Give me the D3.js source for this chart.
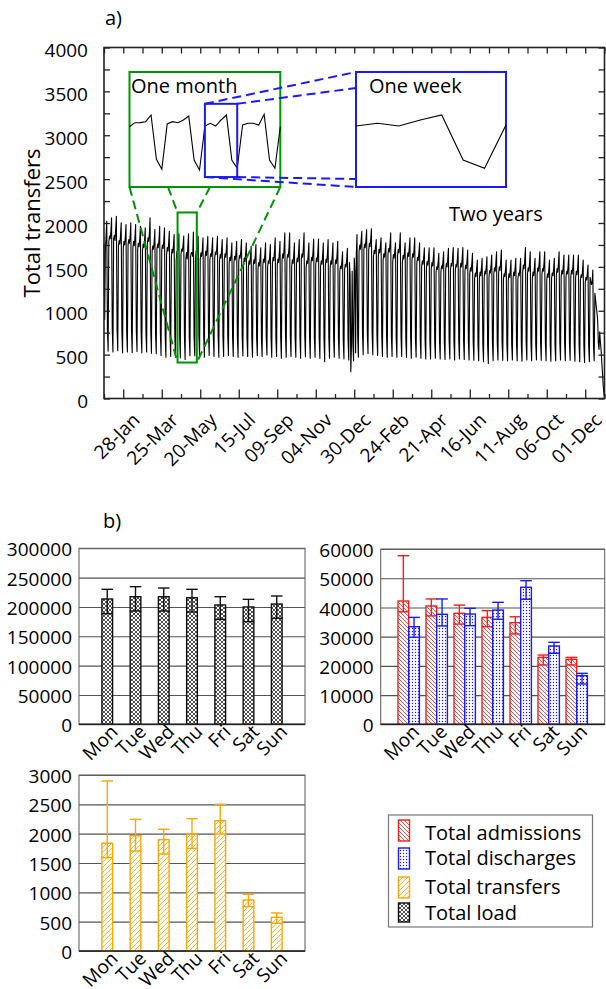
<!DOCTYPE html>
<html>
<head>
<meta charset="utf-8">
<script src="https://cdn.jsdelivr.net/npm/d3@7"></script>
<style>
body { margin: 0; background: #fff; }
svg { display: block; font-family: "Open Sans", sans-serif; }
</style>
</head>
<body>
<script>
// ---- a) daily total transfers, one row per week (Mon..Sun), first Monday 31-Dec-2012
var weekRows = [
	[1760, 900, 1700, 1850, 2020, 780, 540],
	[1790, 1850, 1820, 1900, 2058, 800, 530],
	[1820, 1860, 1800, 1930, 2077, 790, 545],
	[1740, 1800, 1760, 1860, 2001, 770, 520],
	[1710, 1790, 1750, 1840, 1982, 760, 530],
	[1750, 1810, 1770, 1850, 2001, 780, 525],
	[1720, 1790, 1740, 1830, 1982, 770, 535],
	[1700, 1770, 1730, 1820, 1963, 750, 520],
	[1690, 1760, 1720, 1800, 1944, 760, 530],
	[1760, 1830, 1790, 1880, 2058, 780, 515],
	[1680, 1740, 1700, 1790, 1925, 740, 510],
	[1700, 1760, 1720, 1810, 1963, 750, 490],
	[1690, 1750, 1710, 1800, 1944, 720, 470],
	[1640, 1720, 1680, 1770, 1906, 730, 480],
	[1620, 1700, 1660, 1740, 1868, 720, 470],
	[1573, 1678, 1680, 1704, 1878, 723, 462],
	[1644, 1704, 1678, 1748, 1852, 704, 444],
	[1591, 1662, 1591, 1748, 1878, 704, 488],
	[1618, 1662, 1662, 1618, 1897, 704, 488],
	[1573, 1680, 1640, 1720, 1849, 730, 480],
	[1590, 1660, 1620, 1700, 1830, 720, 470],
	[1600, 1680, 1630, 1720, 1849, 730, 490],
	[1580, 1650, 1620, 1700, 1830, 710, 480],
	[1600, 1670, 1640, 1710, 1849, 720, 470],
	[1570, 1640, 1600, 1690, 1811, 700, 480],
	[1580, 1650, 1610, 1700, 1830, 710, 490],
	[1540, 1610, 1570, 1650, 1773, 700, 480],
	[1550, 1620, 1580, 1670, 1792, 710, 470],
	[1560, 1630, 1600, 1680, 1811, 700, 485],
	[1530, 1600, 1560, 1650, 1773, 690, 480],
	[1500, 1570, 1530, 1620, 1735, 680, 470],
	[1510, 1580, 1540, 1630, 1754, 690, 490],
	[1480, 1550, 1510, 1600, 1716, 680, 480],
	[1520, 1590, 1550, 1640, 1773, 700, 495],
	[1500, 1570, 1540, 1620, 1754, 690, 470],
	[1540, 1610, 1570, 1680, 1830, 700, 480],
	[1520, 1590, 1550, 1660, 1792, 690, 460],
	[1580, 1650, 1600, 1720, 1887, 720, 470],
	[1570, 1640, 1610, 1710, 1887, 710, 480],
	[1510, 1580, 1540, 1640, 1773, 690, 470],
	[1530, 1600, 1560, 1660, 1811, 700, 460],
	[1580, 1650, 1610, 1720, 1887, 720, 475],
	[1500, 1570, 1540, 1640, 1773, 690, 460],
	[1540, 1610, 1570, 1670, 1818, 700, 470],
	[1530, 1600, 1560, 1660, 1818, 690, 455],
	[1510, 1570, 1530, 1630, 1773, 680, 420],
	[1520, 1590, 1550, 1650, 1811, 700, 460],
	[1500, 1570, 1530, 1630, 1773, 690, 470],
	[1510, 1580, 1540, 1640, 1792, 690, 460],
	[1450, 1510, 1480, 1560, 1673, 660, 450],
	[1470, 1530, 1500, 1580, 1711, 660, 440],
	[1550, 1400, 305, 620, 1450, 620, 430],
	[1600, 1450, 520, 1650, 1868, 720, 470],
	[1680, 1750, 1700, 1800, 1906, 740, 500],
	[1700, 1760, 1720, 1810, 1925, 750, 510],
	[1690, 1770, 1730, 1820, 1933, 740, 500],
	[1620, 1690, 1650, 1730, 1811, 720, 490],
	[1620, 1700, 1660, 1740, 1830, 720, 480],
	[1580, 1650, 1610, 1690, 1773, 700, 470],
	[1640, 1710, 1670, 1760, 1887, 720, 480],
	[1560, 1640, 1600, 1680, 1773, 700, 470],
	[1630, 1700, 1660, 1750, 1887, 710, 480],
	[1550, 1630, 1590, 1670, 1773, 690, 470],
	[1590, 1660, 1620, 1710, 1830, 700, 460],
	[1580, 1650, 1610, 1700, 1830, 690, 470],
	[1540, 1610, 1570, 1660, 1773, 680, 460],
	[1500, 1570, 1530, 1610, 1716, 670, 450],
	[1490, 1560, 1520, 1600, 1716, 670, 450],
	[1480, 1550, 1510, 1600, 1716, 660, 460],
	[1440, 1500, 1470, 1550, 1654, 650, 450],
	[1440, 1510, 1480, 1560, 1673, 650, 445],
	[1470, 1540, 1500, 1590, 1711, 660, 450],
	[1470, 1540, 1510, 1600, 1719, 660, 440],
	[1460, 1530, 1500, 1590, 1711, 650, 450],
	[1470, 1540, 1500, 1600, 1719, 660, 445],
	[1450, 1520, 1480, 1570, 1692, 650, 440],
	[1420, 1490, 1450, 1540, 1654, 640, 435],
	[1360, 1430, 1390, 1480, 1578, 620, 430],
	[1370, 1440, 1400, 1490, 1597, 630, 420],
	[1380, 1450, 1420, 1500, 1616, 600, 400],
	[1390, 1460, 1430, 1520, 1635, 630, 430],
	[1420, 1490, 1450, 1550, 1673, 640, 440],
	[1430, 1500, 1460, 1560, 1692, 640, 435],
	[1360, 1420, 1390, 1470, 1578, 620, 430],
	[1350, 1420, 1380, 1470, 1578, 620, 440],
	[1370, 1440, 1400, 1490, 1597, 630, 430],
	[1360, 1430, 1400, 1480, 1597, 620, 425],
	[1440, 1520, 1480, 1580, 1719, 650, 440],
	[1420, 1490, 1450, 1550, 1673, 640, 430],
	[1370, 1440, 1400, 1490, 1597, 620, 440],
	[1410, 1490, 1450, 1550, 1673, 640, 435],
	[1420, 1480, 1450, 1540, 1673, 640, 430],
	[1350, 1420, 1380, 1470, 1578, 620, 425],
	[1370, 1430, 1400, 1480, 1597, 620, 430],
	[1410, 1480, 1440, 1540, 1673, 640, 440],
	[1390, 1460, 1420, 1510, 1635, 630, 430],
	[1380, 1450, 1420, 1510, 1635, 630, 435],
	[1390, 1460, 1420, 1510, 1635, 620, 425],
	[1380, 1450, 1410, 1500, 1635, 620, 420],
	[1350, 1410, 1380, 1460, 1578, 600, 410],
	[1320, 1380, 1350, 1420, 1521, 590, 420],
	[1380, 1340, 1300, 1320, 1464, 600, 430],
	[1200, 1130, 1050, 980, 900, 640, 560],
	[760, 650, 560, 420, 300, 160, 70]
];
var lastDayValue = 0; // 29-Dec-2014

var axisStart = "2012-12-31", axisEnd = "2014-12-29";
var majorTickDates = ["2013-01-28", "2013-03-25", "2013-05-20", "2013-07-15", "2013-09-09", "2013-11-04",
	"2013-12-30", "2014-02-24", "2014-04-21", "2014-06-16", "2014-08-11", "2014-10-06", "2014-12-01"];
var yTicksTop = [0, 500, 1000, 1500, 2000, 2500, 3000, 3500, 4000];

// zoom windows
var monthStart = "2013-04-15", monthEnd = "2013-05-13";
var weekStart = "2013-04-29", weekEnd = "2013-05-06";
var monthBoxDates = ["2013-04-17", "2013-05-15"], monthBoxValues = [410, 2120];
var weekBoxValues = [260, 2170];
var insetDomain = [0, 3000];

// ---- b) means per weekday with error bar ends
var dayNames = ["Mon", "Tue", "Wed", "Thu", "Fri", "Sat", "Sun"];
var loadMean = [213600, 217500, 217500, 215800, 203400, 200000, 205000];
var loadHi   = [230100, 234600, 232300, 230100, 217500, 213000, 218700];
var loadLo   = [188500, 193100, 193100, 191400, 179000, 174900, 180700];

var admMean = [42200, 40500, 38000, 36600, 34800, 22900, 22250];
var admHi   = [57700, 42900, 40800, 38900, 36800, 23700, 22900];
var admLo   = [38500, 37100, 34300, 33400, 30900, 20300, 20300];

var disMean = [33400, 37650, 37750, 39100, 46900, 26800, 16650];
var disHi   = [36600, 42900, 39700, 41750, 49150, 28050, 17450];
var disLo   = [29800, 33650, 33750, 35950, 42800, 24300, 13800];

var trMean = [1836, 1966, 1898, 1989, 2222, 869, 574];
var trHi   = [2898, 2244, 2074, 2256, 2500, 966, 648];
var trLo   = [1591, 1705, 1653, 1750, 1994, 756, 472];

var legendLabels = ["Total admissions", "Total discharges", "Total transfers", "Total load"];

var red = "#ff1a1a", blue = "#1a1aff", orange = "#ffa500", green = "#009400";

var svg = d3.select("body").append("svg")
	.attr("width", 606)
	.attr("height", 989);

// patterns
var defs = svg.append("defs");
function addPattern(id, size, color, kind) {
	var p = defs.append("pattern")
		.attr("id", id)
		.attr("patternUnits", "userSpaceOnUse")
		.attr("width", size)
		.attr("height", size);
	p.append("rect").attr("width", size).attr("height", size).attr("fill", "#fff");
	var s = size;
	var back = "M0,0 L" + s + "," + s + " M-1," + (s - 1) + " L1," + (s + 1) + " M" + (s - 1) + ",-1 L" + (s + 1) + ",1";
	var fwd = "M0," + s + " L" + s + ",0 M-1,1 L1,-1 M" + (s - 1) + "," + (s + 1) + " L" + (s + 1) + "," + (s - 1);
	if (kind === "dots") {
		p.append("circle").attr("cx", s / 2).attr("cy", s / 2).attr("r", 0.7).attr("fill", color);
		return;
	}
	var d = kind === "back" ? back : kind === "fwd" ? fwd : back + " " + fwd;
	p.append("path").attr("d", d).attr("stroke", color).attr("stroke-width", 0.8).attr("fill", "none");
}
addPattern("patAdm", 4, red, "back");
addPattern("patDis", 3, blue, "dots");
addPattern("patTr", 5, orange, "fwd");
addPattern("patLoad", 4, "#222", "cross");

// ================= panel a =================
var parseDay = d3.utcParse("%Y-%m-%d");
var fmtTick = d3.utcFormat("%d-%b");
var t0 = parseDay(axisStart);

var series = [];
weekRows.forEach(function(row, w) {
	row.forEach(function(v, d) {
		series.push({date: d3.utcDay.offset(t0, w * 7 + d), value: v});
	});
});
series.push({date: d3.utcDay.offset(t0, weekRows.length * 7), value: lastDayValue});

var pa = {left: 104, right: 604.5, top: 47.5, bottom: 398.5};
var x = d3.scaleUtc()
	.domain([t0, parseDay(axisEnd)])
	.range([pa.left, pa.right]);
var y = d3.scaleLinear()
	.domain([0, 4000])
	.range([pa.bottom, pa.top]);

var line = d3.line()
	.x(function(d) { return x(d.date); })
	.y(function(d) { return y(d.value); });

svg.append("path")
	.datum(series)
	.attr("d", line)
	.attr("fill", "none")
	.attr("stroke", "#000")
	.attr("stroke-width", 1.1)
	.attr("stroke-linejoin", "round");

// ticks
var allTicks = d3.range(27).map(function(i) { return d3.utcDay.offset(t0, 28 * i); });
var majors = majorTickDates.map(parseDay);
var minors = allTicks.filter(function(t) {
	return !majors.some(function(m) { return +m === +t; });
});
function styleAxis(g) {
	g.select(".domain").remove();
	g.selectAll("line").attr("stroke", "#222").attr("stroke-width", 1.3);
	g.selectAll("text").remove();
}
svg.append("g").attr("transform", "translate(0," + pa.bottom + ")")
	.call(d3.axisBottom(x).tickValues(majors).tickSize(-9)).call(styleAxis);
svg.append("g").attr("transform", "translate(0," + pa.bottom + ")")
	.call(d3.axisBottom(x).tickValues(minors).tickSize(-4.5)).call(styleAxis);
svg.append("g").attr("transform", "translate(0," + pa.top + ")")
	.call(d3.axisTop(x).tickValues(allTicks).tickSize(-6)).call(styleAxis);
svg.append("g").attr("transform", "translate(" + pa.left + ",0)")
	.call(d3.axisLeft(y).tickValues(d3.range(0, 4001, 250)).tickSize(-6)).call(styleAxis);
svg.append("g").attr("transform", "translate(" + pa.right + ",0)")
	.call(d3.axisRight(y).tickValues(d3.range(0, 4001, 250)).tickSize(-6)).call(styleAxis);

svg.append("rect")
	.attr("x", pa.left).attr("y", pa.top)
	.attr("width", pa.right - pa.left).attr("height", pa.bottom - pa.top)
	.attr("fill", "none").attr("stroke", "#222").attr("stroke-width", 1.6);

svg.selectAll(".ylab").data(yTicksTop).enter().append("text")
	.attr("x", pa.left - 16)
	.attr("y", function(d) { return y(d) + 3; })
	.attr("dy", "0.35em")
	.attr("text-anchor", "end")
	.attr("font-size", 19)
	.text(function(d) { return d; });

svg.selectAll(".xlab").data(majors).enter().append("text")
	.attr("text-anchor", "end")
	.attr("font-size", 19)
	.attr("dy", "0.35em")
	.attr("transform", function(d) {
		return "translate(" + (x(d) + 13) + "," + (pa.bottom + 18) + ") rotate(-45)";
	})
	.text(function(d) { return fmtTick(d); });

svg.append("text")
	.attr("text-anchor", "middle")
	.attr("font-size", 22)
	.attr("transform", "translate(40,223) rotate(-90)")
	.text("Total transfers");

svg.append("text").attr("x", 449).attr("y", 221).attr("font-size", 20).text("Two years");
svg.append("text").attr("x", 105).attr("y", 25).attr("font-size", 20).text("a)");

// month box on the main chart
var mb = {x0: x(parseDay(monthBoxDates[0])), x1: x(parseDay(monthBoxDates[1])),
	y0: y(monthBoxValues[1]), y1: y(monthBoxValues[0])};

// insets
var monthBox = {left: 129.5, right: 280.3, top: 72, bottom: 187};
var weekBox = {left: 356, right: 506, top: 72, bottom: 187};
var yIn = d3.scaleLinear().domain(insetDomain).range([monthBox.bottom, monthBox.top]);
var xMonth = d3.scaleUtc().domain([parseDay(monthStart), parseDay(monthEnd)]).range([monthBox.left, monthBox.right]);
var xWeek = d3.scaleUtc().domain([parseDay(weekStart), parseDay(weekEnd)]).range([weekBox.left, weekBox.right]);

function between(a, b) {
	var s = parseDay(a), e = parseDay(b);
	return series.filter(function(d) { return d.date >= s && d.date <= e; });
}
var wb = {x0: xMonth(parseDay(weekStart)), x1: xMonth(d3.utcDay.offset(parseDay(weekEnd), -1)),
	y0: yIn(weekBoxValues[1]), y1: yIn(weekBoxValues[0])};

// dashed connectors
var greenLinks = [
	[[monthBox.left, monthBox.bottom], [mb.x0, mb.y1]],
	[[monthBox.right, monthBox.bottom], [mb.x1, mb.y1]],
	[[168, monthBox.bottom], [mb.x0, mb.y0]],
	[[210, monthBox.bottom], [mb.x1, mb.y0]]
];
var blueLinks = [
	[[wb.x0, wb.y0], [weekBox.left, weekBox.top]],
	[[wb.x1, wb.y0], [weekBox.left, 88]],
	[[wb.x0, wb.y1], [weekBox.left, weekBox.bottom]],
	[[wb.x1, wb.y1], [weekBox.left, 179]]
];
function drawLinks(links, color) {
	svg.append("g").selectAll("line").data(links).enter().append("line")
		.attr("x1", function(d) { return d[0][0]; })
		.attr("y1", function(d) { return d[0][1]; })
		.attr("x2", function(d) { return d[1][0]; })
		.attr("y2", function(d) { return d[1][1]; })
		.attr("stroke", color)
		.attr("stroke-width", 2)
		.attr("stroke-dasharray", "9,5");
}
drawLinks(greenLinks, green);

svg.append("rect")
	.attr("x", mb.x0).attr("y", mb.y0)
	.attr("width", mb.x1 - mb.x0).attr("height", mb.y1 - mb.y0)
	.attr("fill", "none").attr("stroke", green).attr("stroke-width", 2);

[monthBox, weekBox].forEach(function(b, i) {
	svg.append("rect")
		.attr("x", b.left).attr("y", b.top)
		.attr("width", b.right - b.left).attr("height", b.bottom - b.top)
		.attr("fill", "#fff")
		.attr("stroke", i === 0 ? green : blue)
		.attr("stroke-width", 2);
});

svg.append("path")
	.datum(between(monthStart, monthEnd))
	.attr("d", d3.line().x(function(d) { return xMonth(d.date); }).y(function(d) { return yIn(d.value); }))
	.attr("fill", "none").attr("stroke", "#000").attr("stroke-width", 1.1);

svg.append("path")
	.datum(between(weekStart, weekEnd))
	.attr("d", d3.line().x(function(d) { return xWeek(d.date); }).y(function(d) { return yIn(d.value); }))
	.attr("fill", "none").attr("stroke", "#000").attr("stroke-width", 1.1);

drawLinks(blueLinks, blue);
svg.append("rect")
	.attr("x", wb.x0).attr("y", wb.y0)
	.attr("width", wb.x1 - wb.x0).attr("height", wb.y1 - wb.y0)
	.attr("fill", "none").attr("stroke", blue).attr("stroke-width", 2);

svg.append("text").attr("x", 131).attr("y", 93).attr("font-size", 20).text("One month");
svg.append("text").attr("x", 369).attr("y", 93).attr("font-size", 20).text("One week");

// ================= panel b =================
svg.append("text").attr("x", 103).attr("y", 528).attr("font-size", 20).text("b)");

var barW = 10.7;
function drawBarPanel(box, yMax, yStep, groups) {
	var xb = d3.scalePoint().domain(dayNames).range([box.left, box.right]).padding(1);
	var yb = d3.scaleLinear().domain([0, yMax]).range([box.bottom, box.top]);
	var g = svg.append("g");

	g.append("g")
		.attr("transform", "translate(" + box.left + ",0)")
		.call(d3.axisLeft(yb).tickValues(d3.range(0, yMax + 1, yStep)).tickFormat(d3.format("d"))
			.tickSize(-(box.right - box.left)).tickPadding(7))
		.call(function(a) {
			a.attr("font-size", null).attr("font-family", null);
			a.select(".domain").remove();
			a.selectAll("line").attr("stroke", "#555").attr("stroke-width", 1.1);
			a.selectAll("text").attr("font-size", 19).attr("fill", "#000").attr("dy", "0.4em");
		});

	g.append("rect")
		.attr("x", box.left).attr("y", box.top)
		.attr("width", box.right - box.left).attr("height", box.bottom - box.top)
		.attr("fill", "none").attr("stroke", "#666").attr("stroke-width", 1.1);

	groups.forEach(function(s) {
		var cx = function(i) { return xb(dayNames[i]) + s.offset + barW / 2; };
		g.selectAll(null).data(s.mean).enter().append("rect")
			.attr("x", function(d, i) { return cx(i) - barW / 2; })
			.attr("y", function(d) { return yb(d); })
			.attr("width", barW)
			.attr("height", function(d) { return box.bottom - yb(d); })
			.attr("fill", "url(#" + s.pattern + ")")
			.attr("stroke", s.color)
			.attr("stroke-width", 1.4);
		var eb = g.selectAll(null).data(s.mean).enter().append("g").attr("stroke", s.color).attr("stroke-width", 1.4);
		eb.append("line")
			.attr("x1", function(d, i) { return cx(i); })
			.attr("x2", function(d, i) { return cx(i); })
			.attr("y1", function(d, i) { return yb(s.lo[i]); })
			.attr("y2", function(d, i) { return yb(s.hi[i]); });
		["lo", "hi"].forEach(function(k) {
			eb.append("line")
				.attr("x1", function(d, i) { return cx(i) - 5.8; })
				.attr("x2", function(d, i) { return cx(i) + 5.8; })
				.attr("y1", function(d, i) { return yb(s[k][i]); })
				.attr("y2", function(d, i) { return yb(s[k][i]); });
		});
	});

	g.append("line")
		.attr("x1", box.left).attr("x2", box.right)
		.attr("y1", box.bottom).attr("y2", box.bottom)
		.attr("stroke", "#222").attr("stroke-width", 1.6);

	g.selectAll(null).data(dayNames).enter().append("text")
		.attr("text-anchor", "end")
		.attr("font-size", 19)
		.attr("dy", "0.35em")
		.attr("transform", function(d) {
			return "translate(" + (xb(d) + 7) + "," + (box.bottom + 4) + ") rotate(-45)";
		})
		.text(function(d) { return d; });
}

drawBarPanel({left: 79, right: 305, top: 548.3, bottom: 724.3}, 300000, 50000, [
	{mean: loadMean, lo: loadLo, hi: loadHi, color: "#111", pattern: "patLoad", offset: -barW / 2}
]);
drawBarPanel({left: 380.7, right: 604.7, top: 549, bottom: 724.3}, 60000, 10000, [
	{mean: admMean, lo: admLo, hi: admHi, color: red, pattern: "patAdm", offset: -barW},
	{mean: disMean, lo: disLo, hi: disHi, color: blue, pattern: "patDis", offset: 0}
]);
drawBarPanel({left: 79, right: 305, top: 775, bottom: 951}, 3000, 500, [
	{mean: trMean, lo: trLo, hi: trHi, color: orange, pattern: "patTr", offset: -barW / 2}
]);

// legend
var legendItems = [
	{label: legendLabels[0], color: red, pattern: "patAdm", y: 820, h: 21, base: 840},
	{label: legendLabels[1], color: blue, pattern: "patDis", y: 848, h: 21, base: 865},
	{label: legendLabels[2], color: orange, pattern: "patTr", y: 877, h: 21, base: 894},
	{label: legendLabels[3], color: "#111", pattern: "patLoad", y: 903, h: 19, base: 920}
];
svg.append("rect")
	.attr("x", 388.5).attr("y", 815)
	.attr("width", 204).attr("height", 112)
	.attr("fill", "#fff").attr("stroke", "#777").attr("stroke-width", 1.2);
var leg = svg.selectAll(".leg").data(legendItems).enter().append("g");
leg.append("rect")
	.attr("x", 398.5).attr("y", function(d) { return d.y; })
	.attr("width", 11).attr("height", function(d) { return d.h; })
	.attr("fill", function(d) { return "url(#" + d.pattern + ")"; })
	.attr("stroke", function(d) { return d.color; })
	.attr("stroke-width", 1.4);
leg.append("text")
	.attr("x", 425).attr("y", function(d) { return d.base; })
	.attr("font-size", 20)
	.text(function(d) { return d.label; });
</script>
</body>
</html>
